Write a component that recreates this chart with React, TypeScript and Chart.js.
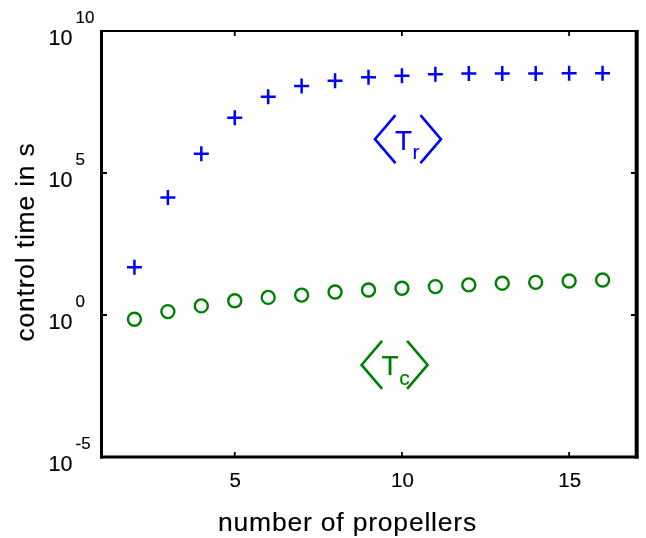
import React, { useEffect, useRef } from "react";
import { Chart, registerables } from "chart.js";

Chart.register(...registerables);

// ---- data ----
const propellers = [2, 3, 4, 5, 6, 7, 8, 9, 10, 11, 12, 13, 14, 15, 16];
const timeRandom = [48, 1.38e4, 4.8e5, 8.9e6, 4.8e7, 1.15e8, 1.78e8, 2.34e8, 2.63e8, 3.0e8, 3.16e8, 3.2e8, 3.2e8, 3.25e8, 3.25e8];
const timeControl = [0.71, 1.32, 2.09, 3.16, 4.17, 5.01, 6.46, 7.59, 8.71, 10.0, 11.5, 13.2, 14.1, 15.8, 17.0];

const xTicks = [5, 10, 15];
const xTickLabels = ["5", "10", "15"];
const yTicks = [1e-5, 1, 1e5, 1e10];
const yTickBase = "10";
const yTickExponents = ["-5", "0", "5", "10"];

const xTitle = "number of propellers";
const yTitle = "control time in s";

const labelTr = { main: "T", sub: "r", x: 10.18, y: 1.55e6, color: "#0000ff" };
const labelTc = { main: "T", sub: "c", x: 9.78, y: 0.0174, color: "#008000" };

const FONT = '"Liberation Sans", Arial, sans-serif';

function softText(ctx: CanvasRenderingContext2D, text: string, x: number, y: number, w = 0.15) {
  ctx.fillText(text, x, y);
  ctx.save();
  ctx.lineWidth = w;
  ctx.strokeStyle = ctx.fillStyle as string;
  ctx.strokeText(text, x, y);
  ctx.restore();
}

function drawBracketLabel(ctx: CanvasRenderingContext2D, cx: number, cy: number, main: string, sub: string, color: string) {
  ctx.save();
  ctx.strokeStyle = color;
  ctx.fillStyle = color;
  ctx.lineWidth = 2.6;
  ctx.lineCap = "butt";
  const tip = 33;
  const inner = 12.5;
  const hh = 24;
  ctx.beginPath();
  ctx.moveTo(cx - inner, cy - hh);
  ctx.lineTo(cx - tip, cy);
  ctx.lineTo(cx - inner, cy + hh);
  ctx.moveTo(cx + inner, cy - hh);
  ctx.lineTo(cx + tip, cy);
  ctx.lineTo(cx + inner, cy + hh);
  ctx.stroke();
  ctx.textAlign = "left";
  ctx.textBaseline = "alphabetic";
  ctx.font = `28px ${FONT}`;
  const tx = cx - 13;
  softText(ctx, main, tx, cy + 10.5);
  const w = ctx.measureText(main).width;
  ctx.font = `21px ${FONT}`;
  softText(ctx, sub, tx + w + 0.5, cy + 20);
  ctx.restore();
}

const decorPlugin = {
  id: "decor",
  afterDraw(chart: any) {
    const { ctx, chartArea } = chart;
    const { left, right, top, bottom } = chartArea;
    const xs = chart.scales.x;
    const ys = chart.scales.y;
    ctx.save();
    ctx.strokeStyle = "#000";
    // box
    ctx.lineWidth = 3;
    ctx.beginPath();
    ctx.moveTo(left + 0.5, top - 1);
    ctx.lineTo(left + 0.5, bottom + 1.5);
    ctx.stroke();
    ctx.beginPath();
    ctx.moveTo(left - 1, bottom);
    ctx.lineTo(right + 2.5, bottom);
    ctx.stroke();
    ctx.lineWidth = 2.2;
    ctx.beginPath();
    ctx.moveTo(left - 1, top);
    ctx.lineTo(right + 2.5, top);
    ctx.stroke();
    ctx.lineWidth = 4;
    ctx.beginPath();
    ctx.moveTo(right + 0.7, top - 1);
    ctx.lineTo(right + 0.7, bottom + 1.5);
    ctx.stroke();
    // ticks
    ctx.lineWidth = 1.8;
    const tl = 5;
    xTicks.forEach((v) => {
      const px = xs.getPixelForValue(v);
      ctx.beginPath();
      ctx.moveTo(px, bottom);
      ctx.lineTo(px, bottom - tl);
      ctx.moveTo(px, top);
      ctx.lineTo(px, top + tl);
      ctx.stroke();
    });
    yTicks.forEach((v) => {
      const py = ys.getPixelForValue(v);
      ctx.beginPath();
      ctx.moveTo(left, py);
      ctx.lineTo(left + tl + 1, py);
      ctx.moveTo(right, py);
      ctx.lineTo(right - tl, py);
      ctx.stroke();
    });
    // tick labels
    ctx.fillStyle = "#000";
    ctx.textBaseline = "alphabetic";
    ctx.font = `20.5px ${FONT}`;
    ctx.textAlign = "center";
    xTicks.forEach((v, i) => {
      const px = xs.getPixelForValue(v);
      softText(ctx, xTickLabels[i], px + 0.5, 487);
    });
    yTicks.forEach((v, i) => {
      const py = ys.getPixelForValue(v);
      ctx.font = `21.5px ${FONT}`;
      ctx.textAlign = "right";
      softText(ctx, yTickBase, 72.5, py + 13.5);
      ctx.font = `17px ${FONT}`;
      ctx.textAlign = "left";
      softText(ctx, yTickExponents[i], 75.5, py - 8);
    });
    // axis titles
    ctx.font = `26.5px ${FONT}`;
    (ctx as any).letterSpacing = "0.8px";
    ctx.textAlign = "center";
    softText(ctx, xTitle, 347.5, 531);
    ctx.save();
    ctx.translate(34, 242);
    ctx.rotate(-Math.PI / 2);
    softText(ctx, yTitle, 0, 0);
    ctx.restore();
    (ctx as any).letterSpacing = "0px";
    // annotations
    [labelTr, labelTc].forEach((l) => {
      drawBracketLabel(ctx, xs.getPixelForValue(l.x), ys.getPixelForValue(l.y), l.main, l.sub, l.color);
    });
    ctx.restore();
  },
};

export default function App() {
  const ref = useRef<HTMLCanvasElement | null>(null);
  useEffect(() => {
    if (!ref.current) return;
    const chart = new Chart(ref.current, {
      type: "scatter",
      data: {
        datasets: [
          {
            label: "Tr",
            data: propellers.map((p, i) => ({ x: p, y: timeRandom[i] })),
            pointStyle: "cross",
            pointRadius: 7.5,
            pointBorderWidth: 2.5,
            borderColor: "#0000ff",
            backgroundColor: "#0000ff",
            showLine: false,
          },
          {
            label: "Tc",
            data: propellers.map((p, i) => ({ x: p, y: timeControl[i] })),
            pointStyle: "circle",
            pointRadius: 6.5,
            pointBorderWidth: 2.4,
            borderColor: "#008000",
            backgroundColor: "rgba(0,0,0,0)",
            showLine: false,
          },
        ],
      },
      options: {
        responsive: false,
        animation: false,
        devicePixelRatio: 1,
        layout: { padding: { top: 31, right: 8, left: 0, bottom: 0 } },
        plugins: { legend: { display: false }, tooltip: { enabled: false } },
        scales: {
          x: {
            type: "linear",
            min: 1,
            max: 17,
            ticks: { display: false },
            grid: { display: false },
            border: { display: false },
            afterFit: (s: any) => {
              s.height = 81;
            },
          },
          y: {
            type: "logarithmic",
            min: 1e-5,
            max: 1e10,
            ticks: { display: false },
            grid: { display: false },
            border: { display: false },
            afterFit: (s: any) => {
              s.width = 101;
            },
          },
        },
      },
      plugins: [decorPlugin],
    } as any);
    return () => chart.destroy();
  }, []);
  return (
    <div style={{ position: "absolute", left: 0, top: 0, width: 646, height: 538, background: "#fff" }}>
      <canvas ref={ref} width={646} height={538} style={{ display: "block" }} />
    </div>
  );
}
